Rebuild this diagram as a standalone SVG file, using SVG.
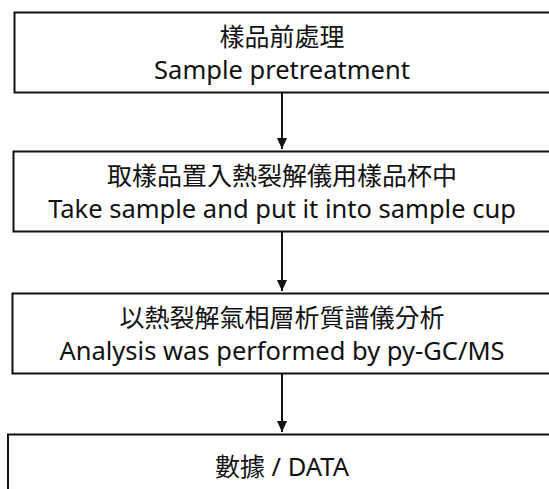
<svg xmlns="http://www.w3.org/2000/svg" width="549" height="489" viewBox="0 0 549 489">
<defs>
<style>
.box{fill:#fff;stroke:#111;stroke-width:2}
.zh{font-family:"Noto Sans CJK TC","Noto Sans",sans-serif;font-size:25px;fill:#111;text-anchor:middle}
.en{font-family:"Noto Sans","Open Sans",sans-serif;font-size:25.5px;fill:#111;text-anchor:middle}
.conn{stroke:#111;stroke-width:2;fill:none}
</style>
<marker id="ah" markerUnits="userSpaceOnUse" markerWidth="11" markerHeight="12" viewBox="0 0 12 11" refX="12" refY="5.5" orient="auto">
<path d="M0,0 L12,5.5 L0,11 Z" fill="#111"/>
</marker>
</defs>
<rect width="549" height="489" fill="#fff"/>
<g id="connectors">
<line class="conn" x1="282" y1="92" x2="282" y2="149" marker-end="url(#ah)"/>
<line class="conn" x1="282" y1="232" x2="282" y2="291" marker-end="url(#ah)"/>
<line class="conn" x1="282" y1="374" x2="282" y2="432" marker-end="url(#ah)"/>
</g>
<g id="n1">
<rect class="box" x="14.5" y="12.5" width="536" height="80"/>
<text class="zh" x="282" y="46">樣品前處理</text>
<text class="en" x="282" y="79">Sample pretreatment</text>
</g>
<g id="n2">
<rect class="box" x="13.5" y="151.5" width="538" height="80"/>
<text class="zh" x="282" y="185">取樣品置入熱裂解儀用樣品杯中</text>
<text class="en" x="282" y="218">Take sample and put it into sample cup</text>
</g>
<g id="n3">
<rect class="box" x="12.5" y="293.5" width="540" height="80"/>
<text class="zh" x="282" y="327">以熱裂解氣相層析質譜儀分析</text>
<text class="en" x="282" y="360">Analysis was performed by py-GC/MS</text>
</g>
<g id="n4">
<rect class="box" x="8" y="434.5" width="545" height="70"/>
<text class="en" x="282" y="476"><tspan class="zh">數據</tspan> / DATA</text>
</g>
</svg>
